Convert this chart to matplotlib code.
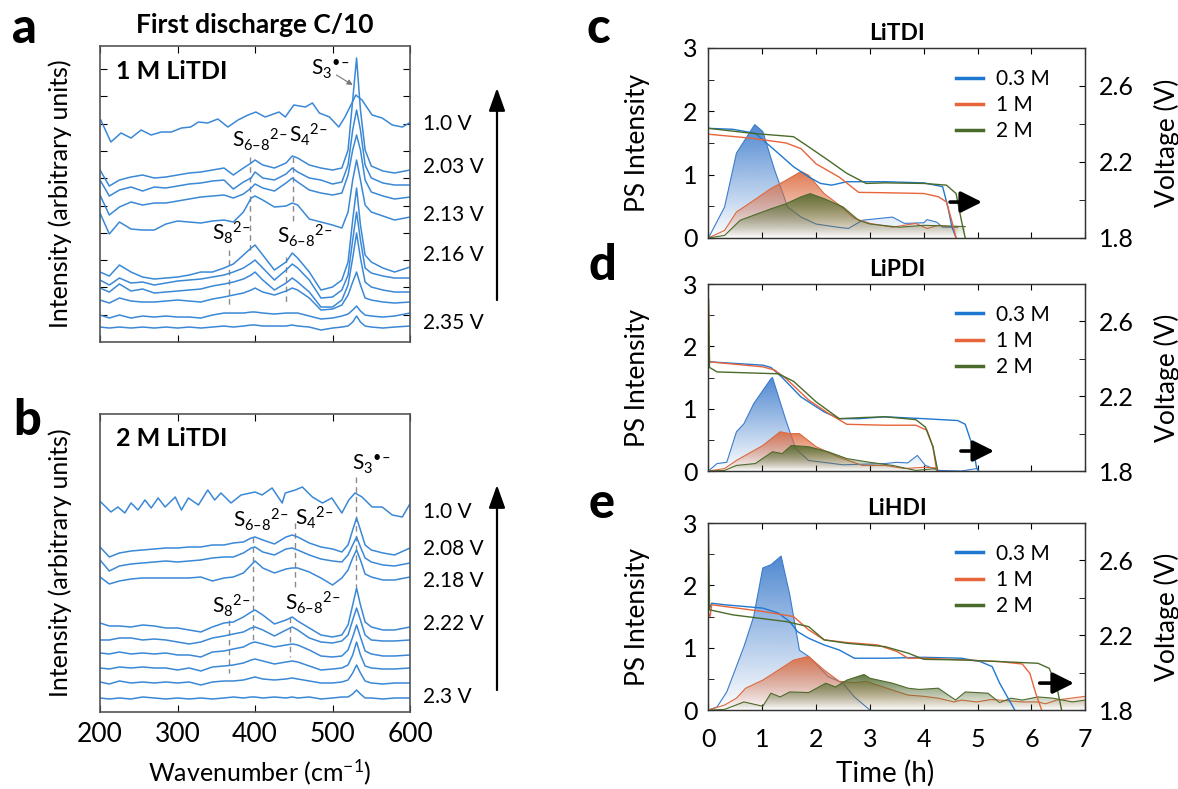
import numpy as np
import matplotlib.pyplot as plt
from matplotlib.colors import to_rgb
from matplotlib.lines import Line2D
from matplotlib.ticker import MultipleLocator

plt.rcParams['font.family'] = ['Lato', 'DejaVu Sans']
plt.rcParams['mathtext.fontset'] = 'custom'
plt.rcParams['mathtext.rm'] = 'Lato'
plt.rcParams['mathtext.it'] = 'Lato:italic'
plt.rcParams['mathtext.bf'] = 'Lato:bold'
plt.rcParams['mathtext.default'] = 'regular'
plt.rcParams['axes.unicode_minus'] = False

# Raman spectra, offset intensities (arbitrary units)
wavenumber = [200, 212, 225, 240, 255, 270, 285, 300, 315, 330, 345, 360, 372, 385, 395, 400, 410,
              425, 440, 448, 455, 470, 485, 500, 512, 520, 526, 531, 536, 542, 550, 565, 580, 600]

# top (1.0 V) spectra are noisier, read on a finer grid
a_100_wn = [201, 214, 227, 240, 253, 266, 279, 292, 305, 317, 327, 339, 352, 365, 378, 391, 401, 413,
            431, 439, 450, 465, 474, 483, 496, 508, 516, 525, 530, 538, 551, 564, 577, 590, 599]
a_100 = [222, 200, 209, 204, 212, 207, 210, 210, 214, 215, 220, 219, 223, 215, 222, 227, 230, 225,
         230, 225, 237, 235, 239, 229, 225, 215, 225, 239, 247, 242, 227, 224, 217, 215, 219]
b_100_wn = [201, 214, 223, 232, 240, 249, 258, 266, 275, 284, 297, 305, 314, 327, 339, 348, 356, 369,
            382, 400, 409, 422, 435, 439, 452, 461, 474, 487, 499, 512, 521, 529, 538, 551, 564, 577,
            590, 599]
b_100 = [210, 200, 205, 199, 209, 202, 212, 204, 214, 205, 215, 202, 214, 207, 222, 212, 219, 209,
         217, 220, 217, 224, 209, 219, 222, 225, 215, 209, 214, 199, 212, 219, 215, 205, 205, 197,
         195, 207]

a_203 = [172, 156, 162, 165, 167, 164, 165, 167, 169, 170, 172, 174, 167, 174, 179, 182, 177,
         174, 179, 186, 184, 177, 174, 172, 174, 192, 242, 284, 232, 192, 176, 171, 169, 172]
a_206 = [162, 146, 152, 155, 151, 155, 154, 156, 158, 159, 161, 162, 153, 160, 164, 170, 164,
         162, 168, 174, 170, 164, 162, 158, 160, 177, 212, 232, 212, 177, 164, 159, 157, 157]
a_210 = [147, 127, 135, 140, 137, 139, 139, 141, 143, 145, 146, 147, 144, 148, 154, 158, 154,
         151, 159, 164, 160, 152, 149, 147, 149, 167, 192, 207, 192, 162, 150, 146, 143, 145]
a_213 = [129, 108, 120, 113, 112, 112, 118, 121, 120, 119, 121, 122, 120, 130, 144, 146, 142,
         135, 136, 139, 137, 123, 120, 117, 114, 130, 162, 182, 162, 137, 130, 126, 122, 125]
a_216 = [70, 66, 77, 70, 65, 63, 64, 65, 67, 70, 70, 74, 78, 87, 94, 97, 87,
         72, 80, 89, 84, 70, 52, 55, 62, 80, 122, 154, 117, 87, 80, 74, 70, 75]
a_220 = [62, 57, 64, 59, 60, 57, 59, 61, 62, 63, 65, 67, 70, 74, 79, 82, 74,
         62, 72, 78, 74, 62, 44, 45, 52, 67, 102, 130, 102, 74, 69, 66, 64, 64]
a_225 = [54, 50, 58, 51, 53, 49, 50, 51, 52, 53, 56, 58, 60, 63, 67, 70, 62,
         52, 59, 64, 60, 50, 35, 35, 42, 57, 84, 109, 84, 60, 55, 52, 50, 50]
a_230 = [42, 39, 44, 41, 40, 40, 41, 42, 41, 40, 43, 45, 47, 49, 52, 54, 50,
         47, 51, 54, 52, 44, 32, 33, 37, 47, 60, 70, 57, 44, 42, 40, 39, 40]
a_233 = [27, 24, 27, 24, 26, 25, 26, 25, 25, 24, 27, 29, 29, 29, 30, 30, 29,
         28, 29, 29, 29, 26, 23, 24, 26, 28, 32, 36, 31, 27, 26, 25, 26, 29]
a_235 = [15, 14, 15, 14, 15, 14, 15, 14, 15, 14, 15, 16, 15, 16, 17, 17, 16,
         16, 16, 17, 16, 15, 12, 14, 15, 16, 20, 26, 20, 16, 15, 14, 15, 16]

b_208 = [165, 155, 159, 161, 162, 163, 164, 164, 165, 165, 167, 167, 169, 170, 174, 175, 172,
         168, 175, 177, 175, 169, 165, 163, 160, 167, 182, 194, 182, 167, 162, 159, 157, 164]
b_213 = [152, 141, 146, 148, 149, 150, 151, 150, 151, 152, 154, 155, 155, 159, 164, 165, 160,
         157, 163, 164, 162, 157, 153, 151, 150, 157, 167, 175, 165, 154, 150, 147, 146, 149]
b_218 = [135, 128, 131, 133, 134, 134, 134, 134, 134, 135, 131, 134, 135, 139, 147, 151, 144,
         139, 143, 144, 144, 140, 134, 127, 134, 142, 154, 162, 152, 138, 135, 132, 132, 135]
b_222 = [89, 86, 86, 85, 87, 86, 84, 84, 82, 80, 85, 89, 90, 95, 100, 102, 97,
         88, 92, 95, 91, 84, 77, 75, 77, 87, 107, 124, 107, 90, 85, 82, 82, 85]
b_224 = [72, 72, 74, 74, 72, 73, 72, 70, 68, 70, 74, 76, 78, 80, 84, 85, 82,
         76, 82, 85, 82, 74, 70, 69, 71, 77, 92, 104, 92, 77, 72, 71, 71, 72]
b_226 = [59, 58, 60, 58, 59, 58, 59, 57, 57, 55, 60, 61, 63, 65, 69, 70, 68,
         65, 67, 68, 67, 62, 56, 55, 56, 62, 75, 87, 75, 61, 58, 56, 56, 57]
b_227 = [44, 43, 45, 44, 45, 44, 44, 42, 44, 41, 45, 46, 47, 49, 52, 53, 51,
         48, 50, 51, 50, 46, 42, 43, 44, 47, 57, 70, 57, 46, 44, 43, 43, 44]
b_229 = [30, 28, 31, 29, 30, 29, 30, 29, 30, 27, 30, 31, 31, 32, 34, 35, 33,
         32, 33, 34, 33, 31, 29, 29, 30, 32, 39, 47, 39, 31, 29, 28, 29, 29]
b_230 = [14, 13, 14, 13, 15, 14, 13, 14, 13, 14, 13, 14, 15, 14, 15, 15, 14,
         15, 14, 15, 14, 15, 13, 14, 15, 15, 18, 22, 18, 14, 14, 13, 14, 14]

volt_labels_a = ['1.0 V', '2.03 V', '2.13 V', '2.16 V', '2.35 V']
volt_labels_b = ['1.0 V', '2.08 V', '2.18 V', '2.22 V', '2.3 V']

# peak assignments: (label sub, label sup, wavenumber, dashed line from, to, label pos)
peaks_a = [('6–8', '2–', 394, 185, 89, 370, 195),
           ('4', '2–', 449, 185, 119, 444, 200),
           ('8', '2–', 366, 92, 37, 344, 102),
           ('6–8', '2–', 440, 85, 37, 428, 99)]
peaks_b = [('3', '•–', 530, 235, 125, 525, 242),
           ('6–8', '2–', 398, 175, 69, 372, 185),
           ('4', '2–', 452, 189, 125, 452, 187),
           ('8', '2–', 367, 92, 39, 344, 99),
           ('6–8', '2–', 445, 95, 55, 439, 102)]

# PS intensity (left axis) and voltage (right axis) vs time (h)
conc = ['0.3 M', '1 M', '2 M']

c_ps03_t = [0, 0.3, 0.52, 0.86, 1.01, 1.23, 1.47, 1.72, 2.0, 2.4, 2.6, 2.86, 3.42, 3.64, 4.0, 4.06, 4.24, 4.35, 4.63]
c_ps03 = [0, 0.49, 1.34, 1.79, 1.68, 1.07, 0.49, 0.33, 0.22, 0.17, 0.15, 0.28, 0.33, 0.23, 0.24, 0.29, 0.25, 0.17, 0.17]
c_ps1_t = [0, 0.3, 0.52, 0.8, 1.16, 1.44, 1.72, 1.86, 2.15, 2.43, 2.71, 3.0, 3.42, 3.85, 4.06, 4.27, 4.63]
c_ps1 = [0, 0.12, 0.41, 0.57, 0.78, 0.91, 1.05, 0.99, 0.70, 0.52, 0.31, 0.23, 0.17, 0.23, 0.15, 0.2, 0.17]
c_ps2_t = [0, 0.3, 0.59, 1.16, 1.44, 1.72, 1.89, 2.15, 2.5, 2.79, 3.0, 3.56, 4.0, 4.77]
c_ps2 = [0, 0.04, 0.28, 0.46, 0.54, 0.65, 0.70, 0.62, 0.49, 0.28, 0.22, 0.17, 0.2, 0.18]
c_v03_t = [0, 0.45, 0.87, 1.3, 1.58, 1.86, 2.08, 2.29, 2.57, 3.28, 4.0, 4.35, 4.45, 4.52, 4.6]
c_v03 = [2.377, 2.372, 2.351, 2.245, 2.175, 2.122, 2.087, 2.078, 2.096, 2.096, 2.09, 2.07, 1.96, 1.86, 1.8]
c_v1_t = [0, 0.8, 1.44, 1.72, 2.0, 2.43, 2.79, 3.28, 4.0, 4.27, 4.42, 4.52, 4.6]
c_v1 = [2.346, 2.325, 2.30, 2.27, 2.19, 2.12, 2.04, 2.038, 2.034, 2.017, 1.99, 1.89, 1.8]
c_v2_t = [0, 0.8, 1.58, 1.86, 2.22, 2.57, 2.93, 3.28, 4.0, 4.42, 4.6, 4.7, 4.77]
c_v2 = [2.377, 2.351, 2.333, 2.28, 2.21, 2.14, 2.087, 2.09, 2.087, 2.078, 2.034, 1.89, 1.8]

d_ps03_t = [0, 0.16, 0.34, 0.52, 0.66, 0.84, 1.16, 1.19, 1.44, 1.62, 1.86, 2.5, 3.28, 3.49, 3.7, 3.88, 4.03, 4.27, 4.7, 4.98, 5.02]
d_ps03 = [0, 0.12, 0.14, 0.63, 0.76, 1.08, 1.48, 1.5, 0.81, 0.36, 0.17, 0.1, 0.12, 0.14, 0.13, 0.25, 0.09, 0.01, 0.0, 0.04, 0.0]
d_ps1_t = [0, 0.3, 0.52, 1.01, 1.33, 1.51, 1.69, 2.0, 2.43, 2.86, 3.28, 3.64, 4.0, 4.24]
d_ps1 = [0, 0.04, 0.17, 0.41, 0.63, 0.6, 0.6, 0.39, 0.22, 0.09, 0.09, 0.04, 0.06, 0.05]
d_ps2_t = [0, 0.3, 0.52, 0.87, 1.19, 1.37, 1.54, 1.86, 2.22, 2.57, 3.0, 3.42, 3.85, 4.24]
d_ps2 = [0, 0.01, 0.09, 0.12, 0.31, 0.28, 0.41, 0.39, 0.31, 0.2, 0.14, 0.09, 0.01, 0.04]
d_v03_t = [0, 0.02, 1.01, 1.16, 1.37, 1.72, 2.15, 2.43, 2.79, 3.28, 4.0, 4.63, 4.77, 4.91, 4.98, 5.02]
d_v03 = [2.40, 2.384, 2.366, 2.354, 2.30, 2.196, 2.116, 2.08, 2.08, 2.09, 2.08, 2.07, 2.05, 1.93, 1.82, 1.8]
d_v1_t = [0, 0.02, 1.01, 1.23, 1.44, 1.86, 2.22, 2.57, 3.28, 3.85, 4.06, 4.17, 4.24]
d_v1 = [2.72, 2.384, 2.357, 2.34, 2.295, 2.18, 2.11, 2.05, 2.045, 2.045, 2.018, 1.93, 1.8]
d_v2_t = [0, 0.02, 0.16, 1.3, 1.58, 2.0, 2.43, 2.86, 3.28, 3.85, 4.03, 4.17, 4.26]
d_v2 = [2.72, 2.354, 2.33, 2.32, 2.28, 2.17, 2.08, 2.086, 2.09, 2.075, 2.035, 1.93, 1.8]

e_ps03_t = [0, 0.16, 0.34, 0.66, 0.84, 1.01, 1.16, 1.35, 1.51, 1.69, 1.86, 2.22, 2.5, 2.71, 3.0]
e_ps03 = [0, 0.05, 0.29, 1.02, 1.5, 2.28, 2.33, 2.47, 1.85, 0.96, 0.86, 0.54, 0.43, 0.21, 0.0]
e_ps1_t = [0, 0.3, 0.52, 0.69, 1.01, 1.44, 1.58, 1.86, 2.15, 2.43, 2.71, 2.93, 3.14, 3.42, 3.71, 4.0,
           4.27, 4.56, 4.7, 4.98, 5.26, 5.55, 5.83, 6.12, 6.26, 6.47, 7.0]
e_ps1 = [0, 0.08, 0.19, 0.35, 0.48, 0.72, 0.80, 0.86, 0.64, 0.46, 0.44, 0.46, 0.40, 0.32, 0.24, 0.22,
         0.19, 0.13, 0.16, 0.13, 0.17, 0.15, 0.13, 0.13, 0.1, 0.16, 0.22]
e_ps2_t = [0, 0.3, 0.66, 1.01, 1.16, 1.33, 1.51, 1.86, 2.18, 2.36, 2.57, 2.89, 3.0, 3.42, 3.71, 3.92,
           4.27, 4.59, 4.77, 5.19, 5.41, 5.62, 5.83, 6.12, 6.4, 6.76, 7.0]
e_ps2 = [0, 0.01, 0.13, 0.06, 0.27, 0.21, 0.29, 0.28, 0.43, 0.37, 0.48, 0.57, 0.51, 0.43, 0.35, 0.33,
         0.35, 0.16, 0.29, 0.27, 0.12, 0.19, 0.16, 0.21, 0.19, 0.13, 0.16]
e_v03_t = [0, 0.06, 0.3, 1.01, 1.3, 1.51, 1.65, 1.86, 2.15, 2.43, 2.71, 3.28, 4.0, 4.7, 5.05, 5.27, 5.41, 5.55, 5.69]
e_v03 = [2.33, 2.371, 2.363, 2.345, 2.318, 2.273, 2.22, 2.184, 2.148, 2.121, 2.077, 2.077, 2.082, 2.077,
         2.059, 2.032, 1.943, 1.871, 1.8]
e_v1_t = [0, 0.03, 0.06, 1.01, 1.58, 1.86, 2.15, 2.57, 3.14, 3.5, 3.71, 4.0, 4.7, 5.41, 5.83, 5.97, 6.08, 6.19]
e_v1 = [2.318, 2.30, 2.363, 2.327, 2.30, 2.229, 2.175, 2.161, 2.148, 2.113, 2.077, 2.077, 2.068, 2.059,
        2.046, 1.996, 1.889, 1.8]
e_v2_t = [0, 0.02, 0.45, 1.44, 1.86, 2.15, 2.57, 3.28, 3.71, 4.0, 4.7, 5.41, 6.12, 6.33, 6.47, 6.56]
e_v2 = [2.76, 2.336, 2.309, 2.273, 2.246, 2.175, 2.157, 2.139, 2.104, 2.071, 2.068, 2.059, 2.05, 2.023,
        1.925, 1.8]

SPEC = '#3a88d6'
LINE_COLS = ['#1f78d0', '#e8643a', '#4b6b2b']
FILL_COLS = ['#3d7ccc', '#dd6a3e', '#4e6a2c']


def raman_panel(ax, spectra, peaks, sample, ymax, labels, label_y, arrow_y):
    for wn, s in spectra:
        ax.plot(wn, s, color=SPEC, lw=1.1)
    for sub, sup, w, h0, h1, tx, ty in peaks:
        ax.plot([w, w], [h0, h1], color='#8a8a8a', lw=1, dashes=(4, 3), zorder=0)
        ax.text(tx, ty, 'S$_{%s}$$^{%s}$' % (sub, sup), fontsize=15, ha='left', va='baseline')
    ax.text(220, ymax - 25, sample, fontsize=18, fontweight='bold', va='center')
    ax.set_xlim(200, 600)
    ax.set_ylim(0, ymax)
    ax.set_xticks([200, 300, 400, 500, 600])
    ax.tick_params(axis='x', direction='in', top=True, length=5, labelsize=19, pad=7)
    for sp in ax.spines.values():
        sp.set_color('#555555')
        sp.set_linewidth(1.2)
    ax.set_ylabel('Intensity (arbitrary units)', fontsize=18)
    ax.yaxis.set_label_coords(-0.09, 0.5)
    for lab, y in zip(labels, label_y):
        fig.text(423 / 1178, 1 - y / 789, lab, fontsize=15, va='center')
    ax.annotate('', xy=(497 / 1178, 1 - arrow_y[1] / 789), xytext=(497 / 1178, 1 - arrow_y[0] / 789),
                xycoords='figure fraction',
                arrowprops=dict(arrowstyle='-|>,head_length=0.7,head_width=0.25', mutation_scale=20,
                                lw=1.6, color='k', shrinkA=0, shrinkB=0), annotation_clip=False)


def grad_fill(ax, t, y, color, z):
    t = np.asarray(t, float)
    y = np.asarray(y, float)
    coll = ax.fill_between(t, y, 0, facecolor='none', edgecolor='none')
    path = coll.get_paths()[0]
    rgba = np.zeros((200, 1, 4))
    rgba[..., :3] = to_rgb(color)
    rgba[:, 0, 3] = np.linspace(0.9, 0.0, 200)
    im = ax.imshow(rgba, extent=[t.min(), t.max(), 0, y.max()], origin='upper', aspect='auto',
                   zorder=z, interpolation='bilinear')
    im.set_clip_path(path, transform=ax.transData)
    ax.plot(t, y, color=color, lw=0.8, zorder=z + 0.1)


def cycle_panel(ax, title, ps, volts, arrow, show_x):
    for i, (t, y) in enumerate(ps):
        grad_fill(ax, t, y, FILL_COLS[i], 2 + i)
    ax.set_xlim(0, 7)
    ax.set_ylim(0, 3)
    ax.set_yticks([0, 1, 2, 3])
    ax.yaxis.set_minor_locator(MultipleLocator(0.5))
    ax.set_xticks(range(8))
    ax.tick_params(which='both', direction='in', top=True, right=False, length=4,
                   labelsize=18, labelbottom=show_x)
    ax.tick_params(axis='y', pad=8)
    ax.tick_params(axis='x', pad=13)
    ax.set_ylabel('PS Intensity', fontsize=19)
    ax.yaxis.set_label_coords(-0.154, 0.5)
    ax.set_title(title, fontsize=16.5, fontweight='bold', pad=6)
    ax2 = ax.twinx()
    for i, (t, v) in enumerate(volts):
        ax2.plot(t, v, color=LINE_COLS[i], lw=1.0)
    ax2.set_ylim(1.8, 2.8)
    ax2.set_yticks([1.8, 2.2, 2.6])
    ax2.yaxis.set_minor_locator(MultipleLocator(0.2))
    ax2.tick_params(which='both', direction='in', length=4, labelsize=18, pad=10)
    ax2.set_ylabel('Voltage (V)', fontsize=19)
    ax2.yaxis.set_label_coords(1.182, 0.5)
    for a in (ax, ax2):
        for sp in a.spines.values():
            sp.set_color('#333333')
            sp.set_linewidth(0.9)
    handles = [Line2D([], [], color=c, lw=2.5) for c in LINE_COLS]
    ax2.legend(handles, conc, loc='upper left', bbox_to_anchor=(0.657, 0.89), frameon=False,
               fontsize=15, borderaxespad=0, borderpad=0, handlelength=1.3, handletextpad=0.6,
               labelspacing=0.3)
    ax2.annotate('', xy=(arrow[1], arrow[2]), xytext=(arrow[0], arrow[2]), xycoords='axes fraction',
                 arrowprops=dict(arrowstyle='-|>,head_length=0.8,head_width=0.4', mutation_scale=16,
                                 lw=2.6, color='k', shrinkA=0, shrinkB=0))
    return ax2


fig = plt.figure(figsize=(11.78, 7.89), dpi=100)

ax_a = fig.add_axes([0.0849, 0.5665, 0.2632, 0.3752])
ax_b = fig.add_axes([0.0849, 0.0976, 0.2632, 0.3777])
ax_c = fig.add_axes([0.6014, 0.6984, 0.3199, 0.2408])
ax_d = fig.add_axes([0.6014, 0.4030, 0.3199, 0.2370])
ax_e = fig.add_axes([0.6014, 0.1001, 0.3199, 0.2370])

spectra_a = [(a_100_wn, a_100)] + [(wavenumber, s) for s in
                                    (a_203, a_206, a_210, a_213, a_216, a_220, a_225, a_230, a_233, a_235)]
raman_panel(ax_a, spectra_a, peaks_a, '1 M LiTDI', 296, volt_labels_a, [124, 167, 215, 255, 323], (300, 88))
ax_a.text(472, 267, 'S$_3$$^{•–}$', fontsize=15, ha='left', va='baseline')
ax_a.annotate('', xy=(526, 257), xytext=(505, 267),
              arrowprops=dict(arrowstyle='-|>', color='#777777', lw=0.8, mutation_scale=8,
                              shrinkA=0, shrinkB=0))
ax_a.set_yticks(np.arange(27.3, 296, 27.3))
ax_a.tick_params(axis='y', direction='in', left=True, right=True, labelleft=False, length=5)
ax_a.tick_params(axis='x', labelbottom=False)
ax_a.text(0.5, 1.071, 'First discharge C/10', transform=ax_a.transAxes, fontsize=19,
          fontweight='bold', ha='center', va='center')

spectra_b = [(b_100_wn, b_100)] + [(wavenumber, s) for s in
                                    (b_208, b_213, b_218, b_222, b_224, b_226, b_227, b_229, b_230)]
raman_panel(ax_b, spectra_b, peaks_b, '2 M LiTDI', 298, volt_labels_b, [512, 549, 581, 624, 697], (690, 485))
ax_b.set_yticks([])
ax_b.set_xlabel('Wavenumber (cm$^{−1}$)', fontsize=18)
ax_b.xaxis.set_label_coords(0.516, -0.152)

cycle_panel(ax_c, 'LiTDI', [(c_ps03_t, c_ps03), (c_ps1_t, c_ps1), (c_ps2_t, c_ps2)],
            [(c_v03_t, c_v03), (c_v1_t, c_v1), (c_v2_t, c_v2)], (0.641, 0.726, 0.189), False)
cycle_panel(ax_d, 'LiPDI', [(d_ps03_t, d_ps03), (d_ps1_t, d_ps1), (d_ps2_t, d_ps2)],
            [(d_v03_t, d_v03), (d_v1_t, d_v1), (d_v2_t, d_v2)], (0.670, 0.758, 0.107), False)
cycle_panel(ax_e, 'LiHDI', [(e_ps03_t, e_ps03), (e_ps1_t, e_ps1), (e_ps2_t, e_ps2)],
            [(e_v03_t, e_v03), (e_v1_t, e_v1), (e_v2_t, e_v2)], (0.879, 0.970, 0.144), True)
ax_e.set_xlabel('Time (h)', fontsize=20)
ax_e.xaxis.set_label_coords(0.468, -0.265)

for letter, x, y in [('a', 12, 43), ('b', 13, 435), ('c', 587, 43), ('d', 589, 280), ('e', 589, 518)]:
    fig.text(x / 1178, 1 - y / 789, letter, fontsize=35, fontweight='black', ha='left', va='baseline')

fig.savefig('out.png', dpi=100)
